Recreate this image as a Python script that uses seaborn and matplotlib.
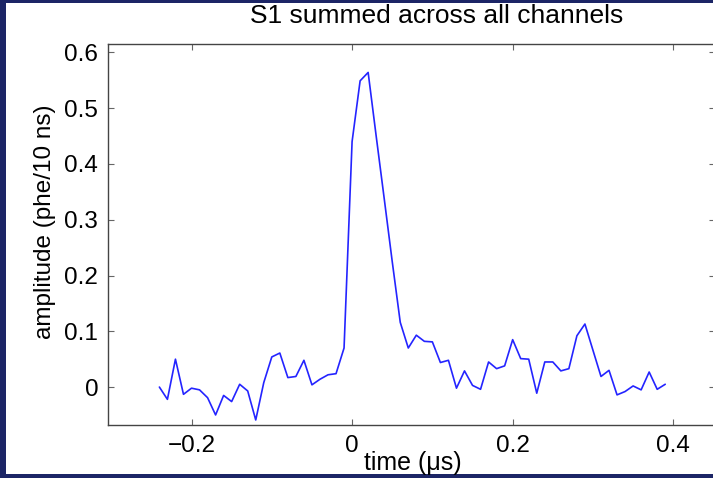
import matplotlib
matplotlib.use("Agg")
import matplotlib.pyplot as plt
from matplotlib.patches import Rectangle
import numpy as np
import pandas as pd
import seaborn as sns

# S1 pulse: summed amplitude in 10 ns bins
time_us = [round(-0.24 + 0.01 * i, 2) for i in range(64)]
amplitude = [
    0.000, -0.022, 0.050, -0.013, -0.002, -0.005, -0.019, -0.050,
    -0.015, -0.026, 0.005, -0.007, -0.059, 0.008, 0.054, 0.061,
    0.017, 0.019, 0.048, 0.004, 0.014, 0.022, 0.024, 0.070,
    0.440, 0.549, 0.564, 0.450, 0.338, 0.225, 0.116, 0.070,
    0.093, 0.082, 0.081, 0.044, 0.048, -0.002, 0.029, 0.003,
    -0.004, 0.045, 0.033, 0.038, 0.085, 0.051, 0.050, -0.011,
    0.045, 0.045, 0.029, 0.033, 0.092, 0.113, 0.066, 0.019,
    0.030, -0.014, -0.008, 0.002, -0.005, 0.027, -0.004, 0.005,
]
x_ticks = [-0.2, 0, 0.2, 0.4]
x_tick_labels = ["\u22120.2", "0", "0.2", "0.4"]
y_ticks = [0, 0.1, 0.2, 0.3, 0.4, 0.5, 0.6]
y_tick_labels = ["0", "0.1", "0.2", "0.3", "0.4", "0.5", "0.6"]

df = pd.DataFrame({"time": time_us, "amplitude": amplitude})

sns.set_style("ticks")
plt.rcParams["font.family"] = ["Liberation Sans", "DejaVu Sans"]
plt.rcParams["text.color"] = "black"
plt.rcParams["axes.labelcolor"] = "black"

W, H = 713, 478
fig = plt.figure(figsize=(W / 100, H / 100), dpi=100, facecolor="#1c2566")
fig.add_artist(Rectangle((6 / W, 4 / H), 1, (H - 7) / H, transform=fig.transFigure,
                         facecolor="white", edgecolor="none", zorder=-5))

left, right, top, bottom = 108, 715, 44, 425
ax = fig.add_axes([left / W, (H - bottom) / H, (right - left) / W, (bottom - top) / H])
ax.set_facecolor("white")

sns.lineplot(data=df, x="time", y="amplitude", ax=ax, color="#2424ff",
             linewidth=1.2, estimator=None)

ax.set_xlim(-0.304, 0.452)
ax.set_ylim(-0.068, 0.615)
ax.set_xticks(x_ticks)
ax.set_xticklabels(x_tick_labels)
ax.set_yticks(y_ticks)
ax.set_yticklabels(y_tick_labels)

for s in ax.spines.values():
    s.set_visible(True)
    s.set_color("#444444")
    s.set_linewidth(1.0)
ax.tick_params(direction="in", length=4, width=0.8, color="#666666",
               top=True, right=True, labelsize=17.5, pad=7, labelcolor="black")

ax.set_xlabel("time (\u03bcs)", fontsize=18, color="black")
ax.xaxis.set_label_coords(0.502, -0.068)
ax.set_ylabel("amplitude (phe/10 ns)", fontsize=17.5, va="center", color="black")
ax.yaxis.set_label_coords(-0.104, 0.533)
fig.text(437 / W, 1 - 16 / H, "S1 summed across all channels", fontsize=19,
         ha="center", va="center", color="black")

fig.savefig("out.png", dpi=100, facecolor=fig.get_facecolor())
